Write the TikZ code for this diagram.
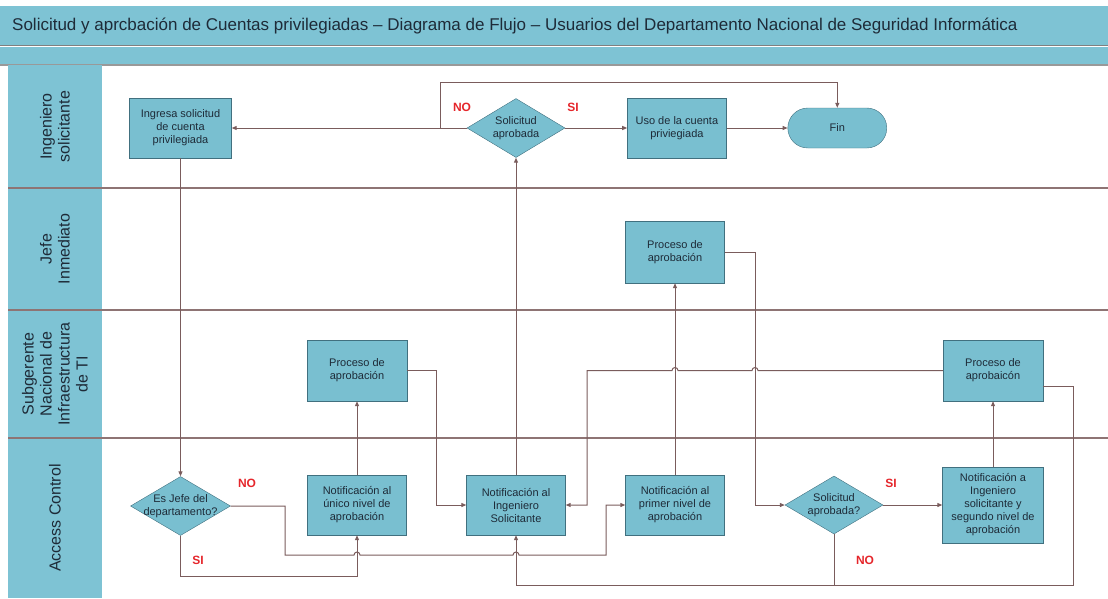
\documentclass[tikz,border=0pt]{standalone}
\usepackage{fontspec}
\setmainfont{Liberation Sans}
\usepackage{xcolor}
\definecolor{lanefill}{HTML}{7EC3D4}
\definecolor{boxfill}{HTML}{79BFD0}
\definecolor{boxline}{HTML}{41707F}
\definecolor{flowline}{HTML}{7A5C5C}
\definecolor{laneline}{HTML}{8E7474}
\definecolor{alert}{HTML}{E5262B}
\definecolor{ink}{HTML}{1E2B38}
\usetikzlibrary{arrows.meta,positioning,shapes.geometric}
\newcommand{\dtxt}[1]{\makebox[0pt]{\begin{tabular}{@{}c@{}}#1\end{tabular}}}

\begin{document}
\begin{tikzpicture}[x=1pt, y=-1pt,
  font=\fontsize{11}{13}\selectfont,
  box/.style={draw=boxline, fill=boxfill, text=ink, align=center,
    minimum width=99pt, minimum height=60pt, inner sep=2pt},
  dec/.style={diamond, draw=boxline, fill=boxfill, text=ink,
    minimum width=98pt, minimum height=59pt, inner sep=0pt},
  yn/.style={text=alert, font=\fontsize{12}{14}\selectfont\bfseries},
  lane/.style={rotate=90, align=center, text=ink,
    font=\fontsize{16}{18}\selectfont},
  line/.style={flowline, line width=1pt},
  arr/.style={line, -{Triangle[length=5pt, width=4pt]}}
]
\useasboundingbox (0,0) rectangle (1108,598);
\fill[lanefill] (0,6) rectangle (1108,45);
\fill[lanefill] (0,47) rectangle (1108,65);
\draw[gray, line width=1.5pt] (0,45.5) -- (1108,45.5);
\draw[gray!80, line width=1.2pt] (0,65) -- (1108,65);
\fill[lanefill] (8,65) rectangle (102,598);
\foreach \y in {188,310,438}
  \draw[laneline, line width=1.6pt] (8,\y) -- (1108,\y);

\node[anchor=west, text=ink, inner sep=0pt] (title) at (12,26)
  {\fontsize{17}{20}\selectfont Solicitud y aprcbación de Cuentas privilegiadas – Diagrama de Flujo – Usuarios del Departamento Nacional de Seguridad Informática};

\node[lane] (ing) at (55,126.5) {Ingeniero\\solicitante};
\node[lane] (jefe) at (55,249) {Jefe\\Inmediato};
\node[lane] (sub) at (55,374) {Subgerente\\Nacional de\\Infraestructura\\de TI};
\node[lane] (acc) at (55,518) {Access Control};

\node[box, minimum width=102pt] (ingresa) at (180.5,128) {Ingresa solicitud\\de cuenta\\privilegiada};
\node[dec] (q1) at (516,128) {\dtxt{Solicitud\\aprobada}};
\node[box, right=62pt of q1] (uso) {Uso de la cuenta\\priviegiada};
\node[box, minimum height=40pt, rounded corners=20pt, right=61pt of uso] (fin) {Fin};

\node[box, minimum height=62pt] (jproc) at (675,252) {Proceso de\\aprobación};

\node[box, minimum width=100pt, minimum height=61pt] (sproc1) at (357,370.5) {Proceso de\\aprobación};
\node[box, minimum width=100pt, minimum height=61pt] (sproc2) at (993,370.5) {Proceso de\\aprobaicón};

\node[dec, minimum width=100pt] (q2) at (180.5,506) {\dtxt{Es Jefe del\\departamento?}};
\node[box] (unico) at (357,505) {Notificación al\\único nivel de\\aprobación};
\node[box] (notif) at (516,505) {Notificación al\\Ingeniero\\Solicitante};
\node[box] (primer) at (675,505) {Notificación al\\primer nivel de\\aprobación};
\node[dec, minimum height=58pt] (q3) at (834,505) {\dtxt{Solicitud\\aprobada?}};
\node[box, minimum width=101pt, minimum height=76pt] (seg) at (993,505)
  {Notificación a\\Ingeniero\\solicitante y\\segundo nivel de\\aprobación};

\coordinate (nob) at (440,128);
\coordinate (base) at (834,585);

\draw[arr] (ingresa) -- (q2);
\draw[arr] (q1.west) -- (ingresa.east);
\draw[arr] (nob) -- (440,82) -| (fin.north);
\draw[arr] (q1) -- (uso);
\draw[arr] (uso) -- (fin);
\draw[arr] (notif) -- (q1);
\draw[arr] (primer) -- (jproc);
\draw[arr] (jproc.east) -- (755,252) |- (q3.west);
\draw[arr] (q3) -- (seg);
\draw[arr] (seg) -- (sproc2);
\draw[arr] (unico) -- (sproc1);
\draw[arr] (sproc1.east) -- (436,370.5) |- (notif.west);
\draw[arr] (sproc2.west) -- (758,370.5) arc[start angle=0, end angle=180, radius=3pt]
  -- (678,370.5) arc[start angle=0, end angle=180, radius=3pt]
  -- (587,370.5) |- (notif.east);
\draw[arr] (q2.east) -- (285,506) -- (285,555) -- (354,555)
  arc[start angle=180, end angle=0, radius=3pt] -- (513,555)
  arc[start angle=180, end angle=0, radius=3pt] -- (606,555) |- (primer.west);
\draw[arr] (q2.south) -- ++(0,41) -| (unico.south);
\draw[arr] ([yshift=-16pt]sproc2.east) -- (1073,386.5) -- (1073,585) -| (notif.south);
\draw[line] (q3.south) -- (base);

\node[yn] (no1) at (462,107) {NO};
\node[yn] (si1) at (573,107) {SI};
\node[yn] (no2) at (247,483) {NO};
\node[yn] (si2) at (198,560) {SI};
\node[yn] (si3) at (891,483) {SI};
\node[yn] (no3) at (865,560) {NO};
\end{tikzpicture}
\end{document}
